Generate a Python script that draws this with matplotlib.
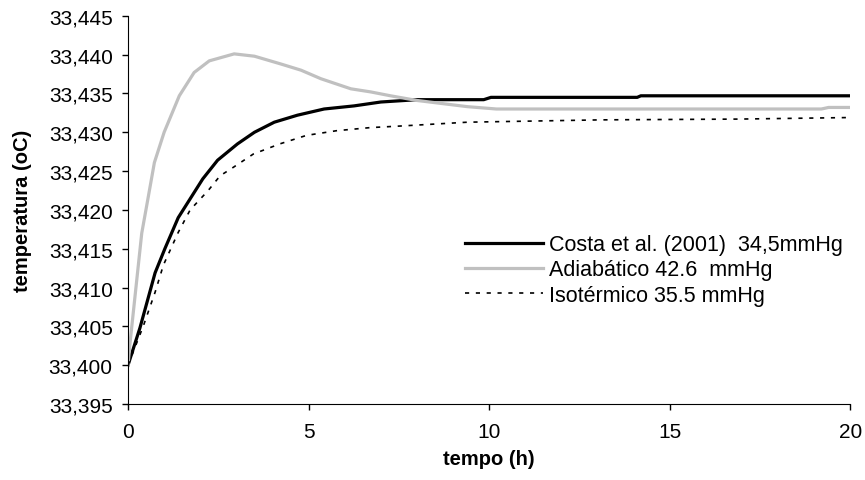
import matplotlib.pyplot as plt
from matplotlib.ticker import FuncFormatter

# Costa et al. (2001)
t_costa = [0, 0.33, 0.75, 1.02, 1.39, 2.07, 2.48, 3.03, 3.5, 4.05, 4.69, 5.43,
           6.26, 7.0, 8.0, 9.85, 10.05, 14.1, 14.2, 20]
T_costa = [33.4000, 33.4048, 33.4119, 33.4150, 33.4190, 33.4240, 33.4264, 33.4285,
           33.4300, 33.4313, 33.4322, 33.4330, 33.4334, 33.4339, 33.4342, 33.4342,
           33.4345, 33.4345, 33.4347, 33.4347]

# adiabatico
t_adia = [0, 0.05, 0.38, 0.55, 0.73, 1.0, 1.42, 1.83, 2.25, 2.94, 3.5, 4.23, 4.79,
          5.34, 6.17, 6.72, 7.27, 8.0, 9.4, 10.2, 19.2, 19.4, 20]
T_adia = [33.4000, 33.4026, 33.4170, 33.4214, 33.4261, 33.4300, 33.4347, 33.4377,
          33.4392, 33.4401, 33.4398, 33.4388, 33.4380, 33.4369, 33.4356, 33.4352,
          33.4347, 33.4341, 33.4333, 33.4330, 33.4330, 33.4332, 33.4332]

# isotermico
t_iso = [0, 0.42, 0.75, 0.98, 1.39, 1.72, 2.22, 2.55, 2.92, 3.47, 4.2, 4.94, 5.77,
         6.7, 7.52, 9.4, 13.1, 16.9, 20]
T_iso = [33.4000, 33.4050, 33.4094, 33.4129, 33.4171, 33.4200, 33.4225, 33.4244,
         33.4255, 33.4272, 33.4285, 33.4296, 33.4302, 33.4306, 33.4308, 33.4313,
         33.4316, 33.4317, 33.4319]

labels = ['Costa et al. (2001)  34,5mmHg', 'Adiabático 42.6  mmHg', 'Isotérmico 35.5 mmHg']

plt.rcParams['font.family'] = ['Liberation Sans', 'DejaVu Sans']

fig = plt.figure(figsize=(8.65, 4.81), dpi=100)
ax = fig.add_axes([0.148, 0.158, 0.835, 0.807])

ax.plot(t_costa, T_costa, color='black', lw=2.3, label=labels[0])
ax.plot(t_adia, T_adia, color='#c0c0c0', lw=2.3, label=labels[1])
ax.plot(t_iso, T_iso, color='black', lw=1.2, linestyle=(0, (2.5, 4)), label=labels[2])

ax.set_xlim(0, 20)
ax.set_ylim(33.395, 33.445)
ax.set_xticks([0, 5, 10, 15, 20])
ax.set_yticks([33.395 + 0.005 * i for i in range(11)])
ax.yaxis.set_major_formatter(FuncFormatter(lambda v, p: f'{v:.3f}'.replace('.', ',')))

ax.spines['top'].set_visible(False)
ax.spines['right'].set_visible(False)
ax.tick_params(direction='out', length=4, width=1, labelsize=15)
ax.tick_params(axis='y', pad=7)
ax.tick_params(axis='x', pad=9)

ax.set_xlabel('tempo (h)', fontsize=14.5, fontweight='bold', labelpad=6)
ax.set_ylabel('temperatura (oC)', fontsize=14.5, fontweight='bold', labelpad=12)

ax.legend(loc='upper left', bbox_to_anchor=(0.455, 0.46), frameon=False, fontsize=15.5,
          handlelength=3.6, handletextpad=0.3, labelspacing=0.2, borderaxespad=0)

fig.savefig('out.png', dpi=100)
